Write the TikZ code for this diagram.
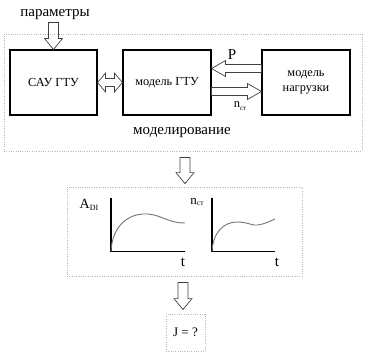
\documentclass[tikz,border=0pt]{standalone}
\usepackage{fontspec}
\setmainfont{Liberation Serif}
\usetikzlibrary{calc}
\tikzset{
 hollow/.style n args={3}{to path={
  ($(\tikztostart)!#1!90:(\tikztotarget)$) --
  ($(\tikztotarget)!#3!(\tikztostart)!#1!-90:(\tikztostart)$) --
  ($(\tikztotarget)!#3!(\tikztostart)!#2!-90:(\tikztostart)$) --
  (\tikztotarget) --
  ($(\tikztotarget)!#3!(\tikztostart)!#2!90:(\tikztostart)$) --
  ($(\tikztotarget)!#3!(\tikztostart)!#1!90:(\tikztostart)$) --
  ($(\tikztostart)!#1!-90:(\tikztotarget)$) -- cycle}},
 hollowboth/.style n args={3}{to path={
  (\tikztostart) --
  ($(\tikztostart)!#3!(\tikztotarget)!#2!90:(\tikztotarget)$) --
  ($(\tikztostart)!#3!(\tikztotarget)!#1!90:(\tikztotarget)$) --
  ($(\tikztotarget)!#3!(\tikztostart)!#1!-90:(\tikztostart)$) --
  ($(\tikztotarget)!#3!(\tikztostart)!#2!-90:(\tikztostart)$) --
  (\tikztotarget) --
  ($(\tikztotarget)!#3!(\tikztostart)!#2!90:(\tikztostart)$) --
  ($(\tikztotarget)!#3!(\tikztostart)!#1!90:(\tikztostart)$) --
  ($(\tikztostart)!#3!(\tikztotarget)!#1!-90:(\tikztotarget)$) --
  ($(\tikztostart)!#3!(\tikztotarget)!#2!-90:(\tikztotarget)$) -- cycle}},
 blk/.style={draw, line width=1.1pt, minimum width=88pt, minimum height=65pt,
   inner sep=0pt, align=center, font=\fontsize{12.3}{15}\selectfont},
 dotbox/.style={draw=gray!55, dash pattern=on 0.8pt off 1.5pt, line width=0.8pt, inner sep=0pt},
 arr/.style={draw=black!75, line width=0.7pt},
 axisline/.style={line width=1.1pt},
 crv/.style={draw=black!55, line width=0.9pt},
 lbl/.style={inner sep=0pt, font=\fontsize{15}{17}\selectfont},
}
\begin{document}
\begin{tikzpicture}[x=1pt,y=-1pt]
\useasboundingbox (0,0) rectangle (365,356);
% top part
\node[dotbox, minimum width=358pt, minimum height=117pt] (outer) at (183,92.5) {};
\node[blk, minimum width=87pt] (sau) at (53.5,82.5) {САУ ГТУ};
\node[blk] (gtu) at (167,82.5) {модель ГТУ};
\node[blk] (load) at (306,82.5) {модель\\нагрузки};
\node[lbl] (par) at (55,15) {параметры};
\node[lbl, font=\fontsize{15}{17}\selectfont] (modl) at (182,133) {моделирование};
\node[lbl] (plbl) at (232,55) {P};
\node[lbl, font=\fontsize{12.5}{14}\selectfont] (nlbl) at (240,106) {n\raisebox{-0.4ex}{\fontsize{7}{8}\selectfont ст}};
\coordinate (ptop) at ($(sau.north)+(0,-27)$);
\draw[arr, hollow={5pt}{9pt}{11pt}] (ptop) to (sau.north);
\draw[arr, hollowboth={4pt}{9.5pt}{8pt}] (sau.east) to (gtu.west);
\draw[arr, hollow={4pt}{8pt}{14pt}] ($(load.west)+(0,-14)$) to ($(gtu.east)+(0,-14)$);
\draw[arr, hollow={4pt}{8pt}{14pt}] ($(gtu.east)+(0,9)$) to ($(load.west)+(0,9)$);
% graphs
\node[dotbox, minimum width=235pt, minimum height=89pt] (graph) at (184.5,231.5) {};
\draw[arr, hollow={5pt}{9pt}{11pt}] ($(outer.south)+(2,6)$) to ($(graph.north)+(0.5,-3)$);
\coordinate (o1) at (111,251.5);
\coordinate (o2) at (212,251.5);
\draw[axisline] (111,198) -- (o1) -- (185,251.5);
\draw[axisline] (212,198) -- (o2) -- (275,251.5);
\draw[crv] (o1) .. controls (112,228) and (126,215) .. (143,214)
  .. controls (160,213) and (166,223) .. (185,223);
\draw[crv] (o2) .. controls (213,232) and (224,222) .. (237,222)
  .. controls (248,222) and (252,226) .. (258,225)
  .. controls (265,224) and (270,221) .. (275,219);
\node[lbl, font=\fontsize{14}{16}\selectfont] (adi) at (89,205) {A\raisebox{-0.2ex}{\fontsize{8}{9}\selectfont DI}};
\node[lbl, font=\fontsize{13}{15}\selectfont] (nst) at (197,202) {n\raisebox{-0.3ex}{\fontsize{7.5}{8}\selectfont ст}};
\node[lbl] (t1) at (183,262) {t};
\node[lbl] (t2) at (277,262) {t};
% result
\node[dotbox, minimum width=39pt, minimum height=37pt, font=\fontsize{13}{15}\selectfont] (jbox) at (185.5,332.5) {J = ?};
\draw[arr, hollow={5pt}{9pt}{11pt}] ($(graph.south)+(-1.5,6)$) to ($(jbox.north)+(-2.5,-4)$);
\end{tikzpicture}
\end{document}
